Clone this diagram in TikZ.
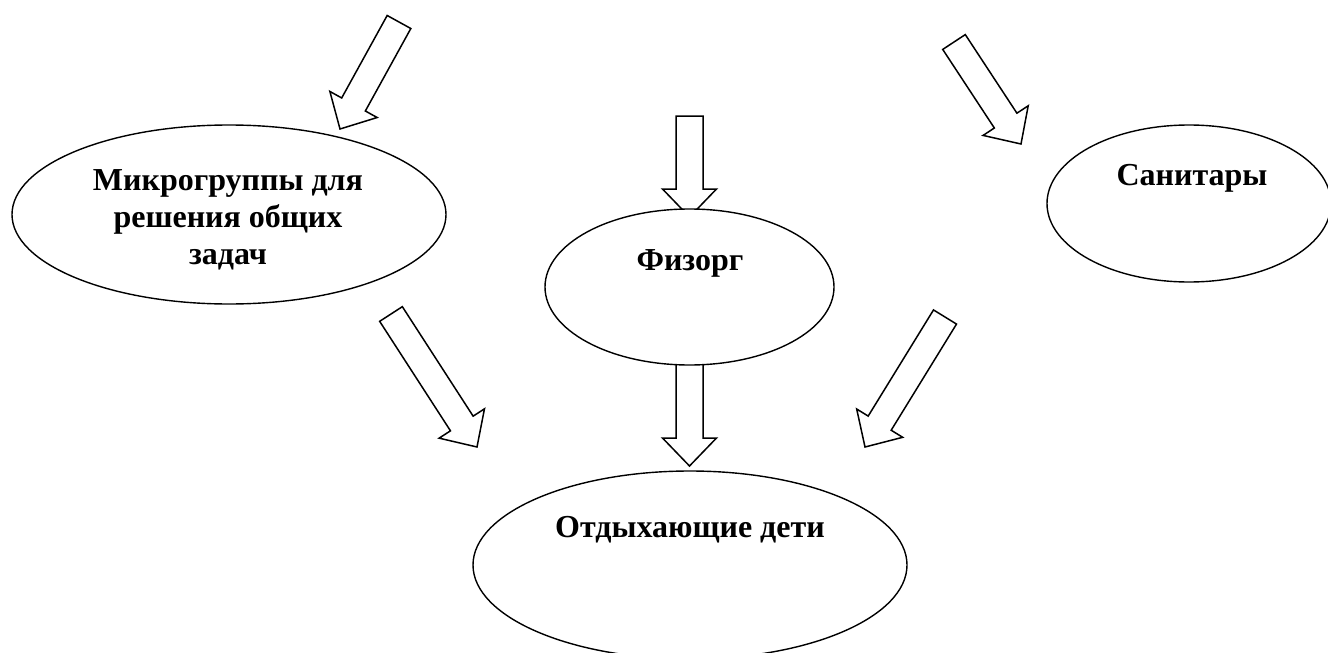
\documentclass[tikz,border=0pt]{standalone}
\usepackage{fontspec}
\setmainfont{Liberation Serif}
\usetikzlibrary{shapes,calc,positioning,backgrounds}

\tikzset{
  oval/.style={draw, ellipse, line width=1.4pt, fill=white, inner sep=0pt},
  ovaltext/.style={font=\fontsize{32}{37}\selectfont\bfseries, align=center},
  fatarrow/.style={draw, line width=1.5pt, line join=miter, fill=white},
}

% block arrow from tail #1 to tip #2
\newcommand{\fatarrow}[2]{%
  \coordinate (hb) at ($(#2)!28pt!(#1)$);
  \draw[fatarrow] ($(#1)!13.5pt!90:(#2)$) -- ($(hb)!13.5pt!90:(#2)$) -- ($(hb)!27pt!90:(#2)$)
    -- (#2) -- ($(hb)!27pt!-90:(#2)$) -- ($(hb)!13.5pt!-90:(#2)$) -- ($(#1)!13.5pt!-90:(#2)$) -- cycle;
}

\begin{document}
\begin{tikzpicture}[x=1pt, y=-1pt]
    \useasboundingbox (0,0) rectangle (1328,653);

    % Ovals
    \node[oval, minimum width=434pt, minimum height=179pt] (micro) at (229,214.5) {};
    \node[oval, minimum width=289pt, minimum height=156pt] (fizorg) at (689.5,287) {};
    \node[oval, minimum width=284pt, minimum height=157pt] (sanit) at (1189,203.5) {};
    \node[oval, minimum width=434pt, minimum height=188pt] (deti) at (690,565) {};

    % Texts
    \node[ovaltext] (micro-t) at ($(micro)+(-1,5.5)$) {Микрогруппы для\\решения общих\\задач};
    \node[ovaltext] (fizorg-t) at ($(fizorg)+(0.5,-24)$) {Физорг};
    \node[ovaltext] (sanit-t) at ($(sanit)+(3,-25.5)$) {Санитары};
    \node[ovaltext] (deti-t) at ($(deti)+(0,-35)$) {Отдыхающие дети};

    % Arrow ends
    \coordinate (a1s) at (399,22);   \coordinate (a1e) at (340,129);
    \coordinate (a2s) at (954,42);   \coordinate (a2e) at (1021,144);
    \coordinate (a3s) at (689.5,116); \coordinate (a3e) at (689.5,217);
    \coordinate (a4s) at (391,314);  \coordinate (a4e) at (477,447);
    \coordinate (a5s) at (689.5,350); \coordinate (a5e) at (689.5,466);
    \coordinate (a6s) at (945,317);  \coordinate (a6e) at (865,447);

    % Arrows
    \begin{scope}[on background layer]
        \fatarrow{a1s}{a1e}
        \fatarrow{a2s}{a2e}
        \fatarrow{a3s}{a3e}
        \fatarrow{a4s}{a4e}
        \fatarrow{a5s}{a5e}
        \fatarrow{a6s}{a6e}
    \end{scope}
\end{tikzpicture}
\end{document}
